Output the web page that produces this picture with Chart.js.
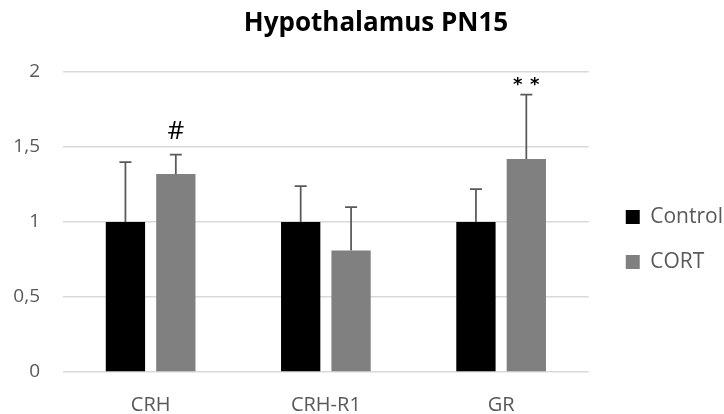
<!DOCTYPE html>
<html>
<head>
<meta charset="utf-8">
<script src="https://cdn.jsdelivr.net/npm/chart.js@4/dist/chart.umd.min.js"></script>
<style>
  html, body { margin: 0; padding: 0; background: #fff; overflow: hidden; }
  canvas { display: block; }
</style>
</head>
<body>
<canvas id="c" width="724" height="479" style="width:724px;height:479px"></canvas>
<script>
const categories = ['CRH', 'CRH-R1', 'GR'];
const controlValues = [1, 1, 1];
const controlErrors = [0.40, 0.24, 0.22];
const cortValues = [1.32, 0.81, 1.42];
const cortErrors = [0.13, 0.29, 0.43];
const cortMarks = ['#', '', '**'];
const yTicks = [0, 0.5, 1, 1.5, 2];

const FONT = '"Open Sans", Carlito, Calibri, sans-serif';
const LEGEND_SIZE = 21;
const errors = [controlErrors, cortErrors];
const marks = [null, cortMarks];

// keep the y tick labels from being clipped by the layout padding
const noClipY = {
  id: 'noClipY',
  beforeDraw(chart) {
    const s = chart.scales.y;
    if (s) s._computeLabelArea = () => undefined;
  }
};

// let the legend be as wide as its text needs (the layout otherwise caps it)
const legendWidthFix = {
  id: 'legendWidthFix',
  beforeUpdate(chart) {
    const lg = chart.legend;
    if (!lg || lg._wfix) return;
    lg._wfix = true;
    const origFit = lg.fit;
    lg.fit = function () {
      origFit.call(this);
      const lab = this.options.labels;
      const ctx = this.ctx;
      ctx.save();
      ctx.font = LEGEND_SIZE + 'px ' + FONT;
      const w = Math.max(...(this.legendItems || []).map(it => ctx.measureText(it.text).width), 0);
      ctx.restore();
      this.width = lab.padding + lab.boxWidth + LEGEND_SIZE / 2 + w + 1;
    };
  }
};

const errorBarPlugin = {
  id: 'errorBars',
  afterDatasetsDraw(chart) {
    const ctx = chart.ctx;
    const yScale = chart.scales.y;
    chart.data.datasets.forEach((ds, i) => {
      const meta = chart.getDatasetMeta(i);
      meta.data.forEach((bar, j) => {
        const v = ds.data[j];
        const e = errors[i][j];
        const yTop = yScale.getPixelForValue(v + e);
        const yBase = yScale.getPixelForValue(v);
        ctx.save();
        ctx.strokeStyle = '#595959';
        ctx.lineWidth = 1.75;
        ctx.beginPath();
        ctx.moveTo(bar.x, yBase);
        ctx.lineTo(bar.x, yTop);
        ctx.moveTo(bar.x - 6, yTop);
        ctx.lineTo(bar.x + 6, yTop);
        ctx.stroke();
        if (marks[i] && marks[i][j]) {
          ctx.fillStyle = '#000';
          ctx.textAlign = 'center';
          ctx.textBaseline = 'alphabetic';
          const m = marks[i][j];
          if (m === '#') {
            ctx.font = '26px ' + FONT;
            ctx.fillText(m, bar.x, yTop - 16);
          } else {
            ctx.font = 'bold 18px "DejaVu Sans", sans-serif';
            const n = m.length;
            for (let k = 0; k < n; k++) {
              ctx.fillText('*', bar.x + (k - (n - 1) / 2) * 17, yTop - 5);
            }
          }
        }
        ctx.restore();
      });
    });
  }
};

function build() {
  new Chart(document.getElementById('c'), {
    type: 'bar',
    data: {
      labels: categories,
      datasets: [
        { label: 'Control', data: controlValues, backgroundColor: '#000000', borderColor: '#000000', borderWidth: 0 },
        { label: 'CORT', data: cortValues, backgroundColor: '#808080', borderColor: '#808080', borderWidth: 0 }
      ]
    },
    options: {
      responsive: false,
      maintainAspectRatio: false,
      animation: false,
      events: [],
      layout: { padding: { left: 28, right: 0, top: 0, bottom: 0 } },
      datasets: { bar: { categoryPercentage: 0.575, barPercentage: 0.78 } },
      scales: {
        x: {
          grid: { display: false, drawTicks: false },
          border: { display: false },
          ticks: { color: '#595959', font: { family: FONT, size: 20 }, padding: 21, maxRotation: 0 },
          afterFit(axis) { axis.height = 107; }
        },
        y: {
          min: 0, max: 2,
          afterBuildTicks(axis) { axis.ticks = yTicks.map(v => ({ value: v })); },
          grid: { color: '#d9d9d9', lineWidth: 1.5, drawTicks: false },
          border: { display: false },
          ticks: {
            color: '#595959', font: { family: FONT, size: 19 }, padding: 23,
            callback: v => String(v).replace('.', ',')
          },
          afterFit(axis) { axis.width = 35; }
        },
        gap: {
          type: 'linear',
          position: 'right',
          display: true,
          grid: { display: false, drawTicks: false },
          border: { display: false },
          ticks: { display: false },
          afterFit(axis) { axis.width = 13; }
        }
      },
      plugins: {
        tooltip: { enabled: false },
        title: {
          display: true,
          text: 'Hypothalamus PN15',
          color: '#000',
          font: { family: FONT, size: 26, weight: 'bold' },
          padding: { top: 8, bottom: 32.8 }
        },
        legend: {
          position: 'right',
          labels: {
            color: '#595959',
            font: { family: FONT, size: LEGEND_SIZE },
            boxWidth: 14, boxHeight: 14,
            padding: 24
          }
        }
      }
    },
    plugins: [noClipY, legendWidthFix, errorBarPlugin]
  });
}

Promise.all([
  document.fonts.load('21px "Open Sans"'),
  document.fonts.load('bold 26px "Open Sans"'),
  document.fonts.load('bold 18px "DejaVu Sans"')
]).then(build, build);
</script>
</body>
</html>
